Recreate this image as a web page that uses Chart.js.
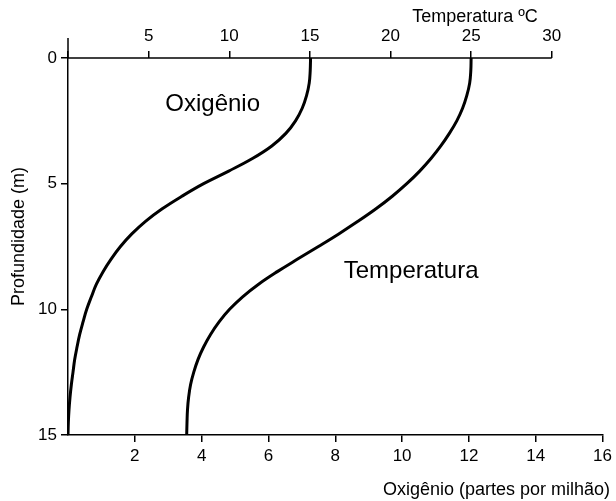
<!DOCTYPE html>
<html>
<head>
<meta charset="utf-8">
<script src="https://cdn.jsdelivr.net/npm/chart.js@4.4.1/dist/chart.umd.min.js"></script>
<style>
body{margin:0;background:#fff}
#wrap{width:616px;height:501px;position:relative}
</style>
</head>
<body>
<div id="wrap"><canvas id="chart"></canvas></div>
<script>
// profundidade (m), de meio em meio metro
var depth = [0, 0.5, 1, 1.5, 2, 2.5, 3, 3.5, 4, 4.5, 5, 5.5, 6, 6.5, 7, 7.5, 8, 8.5, 9, 9.5, 10, 10.5, 11, 11.5, 12, 12.5, 13, 13.5, 14, 14.5, 15];

// oxigênio (partes por milhão)
var oxygen = [7.26, 7.25, 7.22, 7.14, 7.01, 6.81, 6.52, 6.10, 5.52, 4.81, 4.06, 3.41, 2.82, 2.32, 1.91, 1.57, 1.29, 1.05, 0.85, 0.70, 0.56, 0.45, 0.35, 0.27, 0.20, 0.15, 0.10, 0.06, 0.03, 0.01, 0];

// temperatura (ºC)
var temperature = [25, 24.98, 24.91, 24.73, 24.47, 24.11, 23.65, 23.12, 22.51, 21.81, 21.01, 20.11, 19.10, 17.98, 16.79, 15.53, 14.24, 12.98, 11.82, 10.83, 10.02, 9.37, 8.84, 8.41, 8.06, 7.80, 7.60, 7.48, 7.41, 7.38, 7.36];

var depthTicks = [0, 5, 10, 15];
var oxyTicks = [2, 4, 6, 8, 10, 12, 14, 16];
var tempTicks = [0, 5, 10, 15, 20, 25, 30];

// rótulos dentro do gráfico: [texto, oxigênio, profundidade]
var curveLabels = [['Oxigênio', 4.33, 1.84], ['Temperatura', 10.27, 8.47]];

var font = 'Liberation Sans, Arial, sans-serif';

function pts(xs, ys){
	return xs.map((v, i) => ({x: v, y: ys[i]}));
}

var extras = {
	id: 'extras',
	afterDraw(chart){
		var ctx = chart.ctx;
		var a = chart.chartArea;
		var t = chart.scales.t, ox = chart.scales.ox, y = chart.scales.y;
		ctx.save();
		ctx.strokeStyle = '#000';
		ctx.lineWidth = 1.5;
		// eixo de temperatura (só até 30)
		ctx.beginPath();
		ctx.moveTo(a.left, a.top);
		ctx.lineTo(t.getPixelForValue(30), a.top);
		ctx.stroke();
		// prolongamento do eixo vertical
		ctx.beginPath();
		ctx.moveTo(a.left, a.top - 20);
		ctx.lineTo(a.left, a.top);
		ctx.stroke();

		ctx.fillStyle = '#000';
		ctx.font = '18px ' + font;
		ctx.textAlign = 'right';
		ctx.textBaseline = 'middle';
		ctx.fillText('Temperatura ºC', t.getPixelForValue(30) - 14, 17);
		ctx.fillText('Oxigênio (partes por milhão)', 610, 490);

		ctx.save();
		ctx.translate(19, (a.top - 20 + a.bottom) / 2);
		ctx.rotate(-Math.PI / 2);
		ctx.textAlign = 'center';
		ctx.fillText('Profundidade (m)', 0, 0);
		ctx.restore();

		ctx.font = '24px ' + font;
		ctx.textAlign = 'center';
		curveLabels.forEach(l => {
			ctx.fillText(l[0], ox.getPixelForValue(l[1]), y.getPixelForValue(l[2]));
		});
		ctx.restore();
	}
};

var ctx = document.getElementById('chart').getContext('2d');
var mychart = new Chart(ctx, {
	type: 'line',
	data: {
		datasets: [{
			label: 'Oxigênio',
			data: pts(oxygen, depth),
			xAxisID: 'ox',
			yAxisID: 'y',
			borderColor: '#000',
			borderWidth: 3,
			pointRadius: 0,
			tension: 0.4,
			fill: false
		}, {
			label: 'Temperatura',
			data: pts(temperature, depth),
			xAxisID: 't',
			yAxisID: 'y',
			borderColor: '#000',
			borderWidth: 3,
			pointRadius: 0,
			tension: 0.4,
			fill: false
		}]
	},
	options: {
		responsive: true,
		maintainAspectRatio: false,
		animation: false,
		layout: {padding: {right: 13}},
		plugins: {legend: {display: false}, tooltip: {enabled: false}},
		scales: {
			y: {
				type: 'linear',
				position: 'left',
				reverse: true,
				min: 0,
				max: 15,
				afterBuildTicks: s => { s.ticks = depthTicks.map(v => ({value: v})); },
				afterFit: s => { s.width = 68; },
				ticks: {color: '#000', font: {family: font, size: 17}, padding: 4},
				grid: {drawOnChartArea: false, tickLength: 7, color: '#000', lineWidth: 1.5},
				border: {color: '#000', width: 1.5}
			},
			ox: {
				type: 'linear',
				axis: 'x',
				position: 'bottom',
				min: 0,
				max: 16,
				afterBuildTicks: s => { s.ticks = oxyTicks.map(v => ({value: v})); },
				afterFit: s => { s.height = 66; },
				ticks: {color: '#000', font: {family: font, size: 17}, padding: 4, maxRotation: 0},
				grid: {drawOnChartArea: false, tickLength: 7, color: '#000', lineWidth: 1.5},
				border: {color: '#000', width: 1.5}
			},
			t: {
				type: 'linear',
				axis: 'x',
				position: 'top',
				min: 0,
				max: 33.15,
				afterBuildTicks: s => { s.ticks = tempTicks.map(v => ({value: v})); },
				afterFit: s => { s.height = 58; },
				ticks: {color: '#000', font: {family: font, size: 17}, padding: 4, maxRotation: 0,
					callback: v => v === 0 ? '' : v},
				grid: {drawOnChartArea: false, tickLength: 7, color: '#000', lineWidth: 1.5},
				border: {display: false}
			}
		}
	},
	plugins: [extras]
});
</script>
</body>
</html>
